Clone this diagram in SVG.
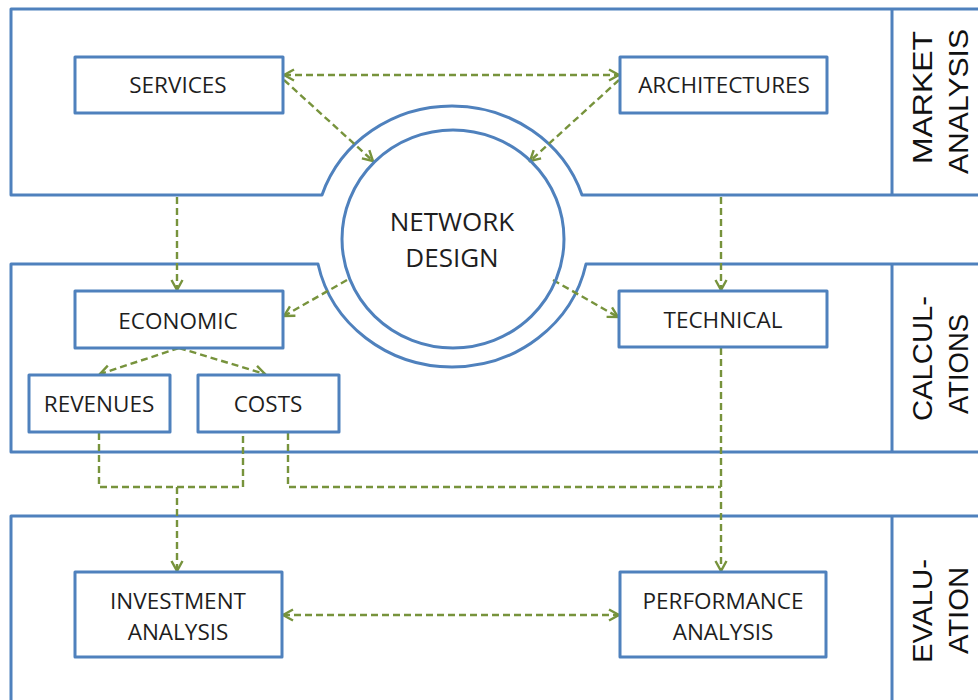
<svg xmlns="http://www.w3.org/2000/svg" width="978" height="700" viewBox="0 0 978 700">
<style>
.frame{fill:none;stroke:#4F81BD;stroke-width:3;stroke-linejoin:round}
.box{fill:#fff;stroke:#4F81BD;stroke-width:3;stroke-linejoin:round}
.lbl{font-family:"Open Sans","Liberation Sans",sans-serif;font-size:22.5px;fill:#1e1e1e;text-anchor:middle}
.big{font-family:"Open Sans","Liberation Sans",sans-serif;font-size:26px;fill:#1e1e1e;text-anchor:middle}
.side{font-family:"Liberation Sans",Arial,sans-serif;font-size:28px;fill:#111;text-anchor:middle}
.con{fill:none;stroke:#77933C;stroke-width:2.4;stroke-dasharray:7 4}
.head{fill:none;stroke:#77933C;stroke-width:2.4;stroke-dasharray:none;stroke-linejoin:miter}
</style>
<defs>
<marker id="arr" markerUnits="userSpaceOnUse" markerWidth="14" markerHeight="14" viewBox="0 0 14 14" refX="12" refY="7" orient="auto-start-reverse">
<path class="head" d="M2,1.5 L12,7 L2,12.5"/>
</marker>
</defs>
<rect width="978" height="700" fill="#fff"/>
<g id="panels">
<path class="frame" d="M978,9 H11 V195 H322 A137,130 0 0 1 582,195 H978"/>
<path class="frame" d="M892,9 V195"/>
<path class="frame" d="M978,264 H586 A137,130 0 0 1 318,264 H11 V452 H978"/>
<path class="frame" d="M892,264 V452"/>
<path class="frame" d="M978,516 H11 V702"/>
<path class="frame" d="M892,516 V702"/>
</g>
<g id="side-labels">
<text class="side" transform="translate(932,97.5) rotate(-90)" textLength="133" lengthAdjust="spacingAndGlyphs">MARKET</text>
<text class="side" transform="translate(968,101.5) rotate(-90)" textLength="145" lengthAdjust="spacingAndGlyphs">ANALYSIS</text>
<text class="side" transform="translate(932,358.5) rotate(-90)" textLength="125" lengthAdjust="spacingAndGlyphs">CALCUL-</text>
<text class="side" transform="translate(968,364) rotate(-90)" textLength="100" lengthAdjust="spacingAndGlyphs">ATIONS</text>
<text class="side" transform="translate(932,611) rotate(-90)" textLength="104" lengthAdjust="spacingAndGlyphs">EVALU-</text>
<text class="side" transform="translate(968,610.5) rotate(-90)" textLength="87" lengthAdjust="spacingAndGlyphs">ATION</text>
</g>
<g id="connectors">
<path class="con" d="M284,75 H619" marker-start="url(#arr)" marker-end="url(#arr)"/>
<path class="con" d="M284,80 L373,161" marker-end="url(#arr)"/>
<path class="con" d="M619,80 L530,161" marker-end="url(#arr)"/>
<path class="con" d="M347,280 L284,316" marker-end="url(#arr)"/>
<path class="con" d="M553,280 L618,317" marker-end="url(#arr)"/>
<path class="con" d="M177,197 V290" marker-end="url(#arr)"/>
<path class="con" d="M721,197 V290" marker-end="url(#arr)"/>
<path class="con" d="M179,348 L100,374" marker-end="url(#arr)"/>
<path class="con" d="M179,348 L265,374" marker-end="url(#arr)"/>
<path class="con" d="M99,433 V487 H243 V433"/>
<path class="con" d="M177,487 V571" marker-end="url(#arr)"/>
<path class="con" d="M288,433 V487 H721"/>
<path class="con" d="M721,348 V571" marker-end="url(#arr)"/>
<path class="con" d="M283,615 H619" marker-start="url(#arr)" marker-end="url(#arr)"/>
</g>
<g id="network-design">
<ellipse class="frame" cx="453" cy="239" rx="111" ry="109"/>
<text class="big" x="452" y="231">NETWORK</text>
<text class="big" x="452" y="267">DESIGN</text>
</g>
<g id="services">
<rect class="box" x="75" y="57" width="208" height="56"/>
<text class="lbl" x="178" y="93">SERVICES</text>
</g>
<g id="architectures">
<rect class="box" x="620" y="57" width="207" height="56"/>
<text class="lbl" x="724" y="93">ARCHITECTURES</text>
</g>
<g id="economic">
<rect class="box" x="75" y="291" width="208" height="57"/>
<text class="lbl" x="178" y="329">ECONOMIC</text>
</g>
<g id="revenues">
<rect class="box" x="29" y="375" width="141" height="57"/>
<text class="lbl" x="99" y="412">REVENUES</text>
</g>
<g id="costs">
<rect class="box" x="198" y="375" width="141" height="57"/>
<text class="lbl" x="268" y="412">COSTS</text>
</g>
<g id="technical">
<rect class="box" x="619" y="291" width="208" height="56"/>
<text class="lbl" x="723" y="328">TECHNICAL</text>
</g>
<g id="investment-analysis">
<rect class="box" x="75" y="572" width="207" height="85"/>
<text class="lbl" x="178" y="609">INVESTMENT</text>
<text class="lbl" x="178" y="640">ANALYSIS</text>
</g>
<g id="performance-analysis">
<rect class="box" x="620" y="572" width="206" height="85"/>
<text class="lbl" x="723" y="609">PERFORMANCE</text>
<text class="lbl" x="723" y="640">ANALYSIS</text>
</g>
</svg>
